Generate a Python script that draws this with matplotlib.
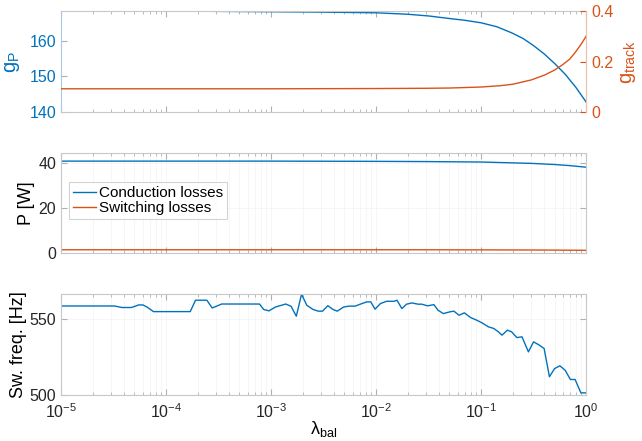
import matplotlib
matplotlib.use("Agg")
import matplotlib.pyplot as plt

plt.rcParams['font.family'] = ['Liberation Sans', 'DejaVu Sans']
plt.rcParams['mathtext.fontset'] = 'custom'
plt.rcParams['mathtext.rm'] = 'Liberation Sans'
plt.rcParams['mathtext.it'] = 'Liberation Sans:italic'

BLUE = '#0072BD'
ORANGE = '#D95319'

# 目标函数各项随 lambda_bal 的变化
lam_g = [1e-5, 1e-4, 1e-3, 3e-3, 1e-2, 2e-2, 3.2e-2, 0.05, 0.07, 0.1, 0.141,
         0.195, 0.251, 0.316, 0.398, 0.501, 0.631, 0.794, 1.0]
g_p = [168.3, 168.3, 168.1, 168.0, 167.8, 167.4, 166.9, 166.2, 165.7, 165.0, 163.9,
       162.2, 160.6, 158.6, 156.3, 153.6, 150.6, 147.0, 142.8]

lam_t = [1e-5, 1e-3, 1e-2, 3e-2, 0.05, 0.1, 0.15, 0.2, 0.3, 0.4, 0.5, 0.6, 0.7, 0.8, 0.9, 1.0]
g_track = [0.092, 0.092, 0.093, 0.094, 0.095, 0.099, 0.104, 0.110, 0.127, 0.146, 0.166,
           0.188, 0.210, 0.240, 0.270, 0.300]

# 损耗
lam_p = [1e-5, 1e-3, 1e-2, 3e-2, 0.1, 0.3, 0.5, 0.7, 1.0]
p_cond = [40.9, 40.9, 40.8, 40.7, 40.5, 39.9, 39.4, 38.9, 38.2]
p_sw = [1.5, 1.5, 1.5, 1.5, 1.45, 1.4, 1.35, 1.3, 1.25]

# 开关频率
lam_f = [1.0e-5, 3.24e-5, 3.8e-5, 4.68e-5, 5.5e-5, 6.03e-5, 6.6e-5, 7.59e-5,
         1.70e-4, 1.91e-4, 2.45e-4, 2.75e-4, 3.39e-4, 7.76e-4, 8.51e-4, 9.55e-4,
         1.10e-3, 1.38e-3, 1.55e-3, 1.74e-3, 1.95e-3, 2.19e-3, 2.51e-3, 2.82e-3,
         3.09e-3, 3.47e-3, 3.89e-3, 4.27e-3, 4.90e-3, 5.50e-3, 6.31e-3, 7.08e-3,
         8.13e-3, 8.91e-3, 9.77e-3, 1.10e-2, 1.26e-2, 1.48e-2, 1.58e-2, 1.76e-2,
         1.95e-2, 2.19e-2, 2.51e-2, 2.72e-2, 3.09e-2, 3.55e-2, 3.89e-2, 4.37e-2,
         5.01e-2, 5.50e-2, 6.17e-2, 6.92e-2, 7.94e-2, 9.12e-2, 0.102, 0.117,
         0.132, 0.146, 0.158, 0.178, 0.195, 0.219, 0.245, 0.282, 0.316, 0.359,
         0.398, 0.447, 0.501, 0.562, 0.631, 0.708, 0.785, 0.891, 1.0]
f_sw = [558.7, 558.7, 557.7, 557.7, 559.4, 559.4, 558.0, 555.0,
        555.0, 562.5, 562.5, 557.4, 560.0, 560.0, 556.4, 555.5,
        558.0, 560.0, 558.5, 552.0, 566.4, 559.2, 556.4, 555.3,
        555.3, 558.9, 556.4, 555.3, 558.0, 558.6, 558.6, 559.9,
        561.4, 561.4, 556.6, 560.3, 561.8, 561.8, 562.5, 557.0,
        559.9, 560.7, 559.9, 559.9, 558.8, 559.6, 555.9, 553.7,
        554.8, 555.3, 552.6, 554.2, 551.1, 549.3, 547.6, 545.0,
        543.9, 541.7, 539.5, 542.8, 541.7, 537.9, 538.4, 528.5, 535.1, 532.9,
        530.7, 512.1, 517.5, 519.3, 516.4, 510.3, 510.3, 501.5, 501.5]


def style(ax, grid=True):
    ax.set_xscale('log')
    ax.set_xlim(1e-5, 1)
    for s in ax.spines.values():
        s.set_color('#c8c8c8')
        s.set_linewidth(0.8)
    ax.tick_params(which='both', direction='in', top=True, right=True,
                   color='#b0b0b0', labelsize=11.5, labelcolor='#262626')
    ax.tick_params(which='major', length=4)
    ax.tick_params(which='minor', length=2)
    ax.tick_params(axis='x', pad=5)
    if grid:
        ax.grid(True, which='both', color='#f3f3f3', lw=0.5)
        ax.set_axisbelow(True)


fig = plt.figure(figsize=(6.42, 4.41), dpi=100)
ax1 = fig.add_axes([0.095, 0.746, 0.818, 0.229])
ax2 = fig.add_axes([0.095, 0.426, 0.818, 0.227])
ax3 = fig.add_axes([0.095, 0.104, 0.818, 0.229])

# 上图：双 y 轴
style(ax1, grid=False)
ax1.tick_params(right=False)
ax1.plot(lam_g, g_p, color=BLUE, lw=1.0)
ax1.set_ylim(140, 168.3)
ax1.set_yticks([140, 150, 160])
ax1.tick_params(axis='y', labelcolor=BLUE)
ax1.set_ylabel(r'g$_\mathregular{P}$', color=BLUE, fontsize=14.5, labelpad=5)
ax1.set_xticklabels([])
ax1.spines['left'].set_color('#a9c8e6')

ax1r = ax1.twinx()
ax1r.plot(lam_t, g_track, color=ORANGE, lw=1.0)
ax1r.set_ylim(0, 0.4)
ax1r.set_yticks([0, 0.2, 0.4])
ax1r.set_yticklabels(['0', '0.2', '0.4'])
ax1r.tick_params(axis='y', direction='in', colors=ORANGE, labelsize=11.5, length=4)
ax1r.spines['right'].set_color('#f0c0a8')
for k in ['top', 'bottom', 'left']:
    ax1r.spines[k].set_visible(False)
ax1r.set_ylabel(r'g$_\mathregular{track}$', color=ORANGE, fontsize=14.5, labelpad=4)

# 中图：损耗
style(ax2)
ax2.plot(lam_p, p_cond, color=BLUE, lw=1.0, label='Conduction losses')
ax2.plot(lam_p, p_sw, color=ORANGE, lw=1.0, label='Switching losses')
ax2.set_ylim(0, 44.5)
ax2.set_yticks([0, 20, 40])
ax2.set_xticklabels([])
ax2.set_ylabel('P [W]', fontsize=13, labelpad=2)
leg = ax2.legend(loc='upper left', bbox_to_anchor=(0.016, 0.71), fontsize=11,
                 frameon=True, fancybox=False, borderpad=0.25, labelspacing=0.1,
                 handlelength=1.5, handletextpad=0.2, borderaxespad=0)
leg.get_frame().set_edgecolor('#c8c8c8')
leg.get_frame().set_linewidth(0.8)

# 下图：开关频率
style(ax3)
ax3.plot(lam_f, f_sw, color=BLUE, lw=1.0)
ax3.set_ylim(500, 566.5)
ax3.set_yticks([500, 550])
ax3.set_ylabel('Sw. freq. [Hz]', fontsize=13, labelpad=2)
ax3.set_xlabel('λ$_\\mathregular{bal}$', fontsize=13, labelpad=-1)

fig.savefig('out.png', dpi=100)
